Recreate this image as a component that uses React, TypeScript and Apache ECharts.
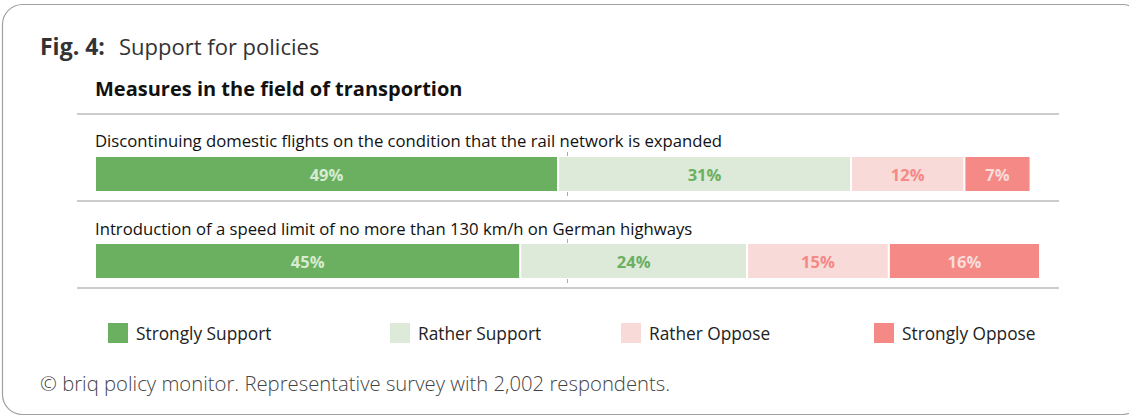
import React, { useEffect, useRef } from "react";
import * as echarts from "echarts";

const questions = [
  "Discontinuing domestic flights on the condition that the rail network is expanded",
  "Introduction of a speed limit of no more than 130 km/h on German highways",
];
const categories = ["Strongly Support", "Rather Support", "Rather Oppose", "Strongly Oppose"];
const strongSupport = [49, 45];
const ratherSupport = [31, 24];
const ratherOppose = [12, 15];
const strongOppose = [7, 16];
const seriesValues = [strongSupport, ratherSupport, ratherOppose, strongOppose];

const barColors = ["#6bb061", "#dde9d9", "#f8dbd9", "#f48986"];
const labelColors = ["#d6ebd0", "#6bb061", "#f48986", "#fbdcda"];
const FONT = "'Open Sans', 'Noto Sans', sans-serif";

export default function App() {
  const ref = useRef<HTMLDivElement>(null);
  useEffect(() => {
    document.body.style.margin = "0";
    const chart = echarts.init(ref.current!, null, { renderer: "svg" });
    const rowTops = [152, 239];
    const labelY = [140, 228];
    const grids = rowTops.map((t) => ({ left: 95, width: 945, top: t, height: 44 }));
    const xAxes = rowTops.map((_, i) => ({
      type: "value", gridIndex: i, min: 0, max: 100, show: false,
    }));
    const yAxes = rowTops.map((_, i) => ({
      type: "category", gridIndex: i, data: [questions[i]], show: false,
    }));
    const series: any[] = [];
    rowTops.forEach((_, r) => {
      categories.forEach((c, k) => {
        const s: any = {
          type: "bar",
          name: c,
          stack: "row" + r,
          xAxisIndex: r,
          yAxisIndex: r,
          barWidth: 36,
          z: 3,
          data: [seriesValues[k][r]],
          itemStyle: { color: barColors[k], borderColor: "#ffffff", borderWidth: 1 },
          label: {
            show: true,
            position: "inside",
            formatter: "{c}%",
            color: labelColors[k],
            fontFamily: FONT,
            fontWeight: "bold",
            fontSize: 16.5,
          },
        };
        if (k === 0) {
          s.markLine = {
            silent: true,
            z: 1,
            symbol: "none",
            label: { show: false },
            lineStyle: { color: "#aaaaaa", type: "solid", width: 1 },
            data: [{ xAxis: 50 }],
          };
        }
        series.push(s);
      });
    });
    const legendX = [106, 388, 619, 872];
    const legends = categories.map((c, k) => ({
      data: [c],
      left: legendX[k],
      top: 321,
      padding: 0,
      itemWidth: 22,
      itemHeight: 22,
      icon: "rect",
      selectedMode: false,
      textStyle: { fontFamily: FONT, fontSize: 17.3, color: "#222222", padding: [0, 0, 0, 2] },
    }));
    const hLine = (y: number) => ({
      type: "line",
      shape: { x1: 77, y1: y, x2: 1059, y2: y },
      style: { stroke: "#999999", lineWidth: 1 },
      silent: true,
    });
    const text = (t: string, x: number, y: number, font: string, fill: string) => ({
      type: "text",
      x,
      y,
      style: { text: t, font, fill, verticalAlign: "middle", align: "left" },
      silent: true,
    });
    chart.setOption({
      animation: false,
      grid: grids,
      xAxis: xAxes,
      yAxis: yAxes,
      legend: legends,
      series,
      graphic: [
        {
          type: "rect",
          shape: { x: 2.5, y: 4.5, width: 1140, height: 410, r: 20 },
          style: { fill: "none", stroke: "#a0a0a0", lineWidth: 1.2 },
          silent: true,
          z: -1,
        },
        text("Fig. 4:", 40, 46, `bold 23px ${FONT}`, "#333333"),
        text("Support for policies", 119, 46, `22px ${FONT}`, "#333333"),
        text("Measures in the field of transportion", 95, 88, `bold 20px ${FONT}`, "#111111"),
        hLine(114),
        hLine(201),
        hLine(288),
        text(questions[0], 95, labelY[0], `16.7px ${FONT}`, "#111111"),
        text(questions[1], 95, labelY[1], `16.7px ${FONT}`, "#111111"),
        text(
          "© briq policy monitor. Representative survey with 2,002 respondents.",
          40,
          383,
          `300 20.3px ${FONT}`,
          "#444444"
        ),
      ],
    });
    return () => chart.dispose();
  }, []);
  return <div ref={ref} style={{ width: 1129, height: 416, overflow: "hidden" }} />;
}
